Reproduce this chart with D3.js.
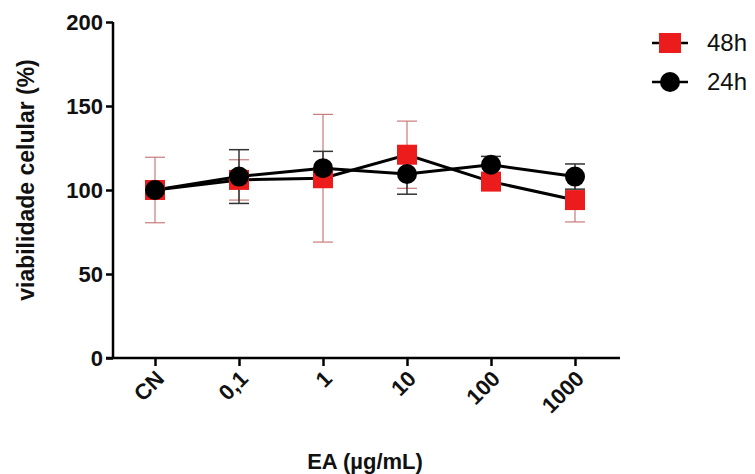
<!DOCTYPE html>
<html>
<head>
<meta charset="utf-8">
<script src="https://cdn.jsdelivr.net/npm/d3@7"></script>
<style>
body { margin: 0; background: #fff; }
text { font-family: Arial, "Liberation Sans", sans-serif; }
</style>
</head>
<body>
<div id="myDiv"></div>
<script>
// doses on the x axis
var categories = ["CN", "0,1", "1", "10", "100", "1000"];
// 48h series (mean and error)
var h48 = [100, 106, 107, 121, 105, 94];
var h48err = [19.5, 12, 38, 20, 4, 13];
// 24h series
var h24 = [100, 108, 113, 109.5, 115, 108];
var h24err = [4, 16, 10, 12, 5, 7.5];
var yTicks = [0, 50, 100, 150, 200];
var legendNames = ["48h", "24h"];

var svg = d3.select("#myDiv").append("svg")
    .attr("width", 755)
    .attr("height", 474);

var x = d3.scalePoint()
    .domain(categories)
    .range([113, 617])
    .padding(0.5);

var y = d3.scaleLinear()
    .domain([0, 200])
    .range([358, 22]);

// y axis
var yAxis = svg.append("g")
    .attr("transform", "translate(113,0)")
    .call(d3.axisLeft(y).tickValues(yTicks).tickSize(7).tickPadding(3));
yAxis.select(".domain").attr("stroke-width", 2.5).attr("d", "M0,22V358");
yAxis.selectAll(".tick line").attr("stroke-width", 2.5);
yAxis.selectAll(".tick text")
    .attr("font-size", 22)
    .attr("font-weight", "bold")
    .attr("fill", "#111")
    .attr("font-family", "Arial, 'Liberation Sans', sans-serif");

// x axis
var xAxis = svg.append("g")
    .attr("transform", "translate(0,358)")
    .call(d3.axisBottom(x).tickSize(8).tickSizeOuter(0));
xAxis.select(".domain").attr("stroke-width", 2.5).attr("d", "M106,0H620");
xAxis.selectAll(".tick line").attr("stroke-width", 2.5);
xAxis.selectAll(".tick text")
    .attr("font-size", 22)
    .attr("font-weight", "bold")
    .attr("fill", "#111")
    .attr("font-family", "Arial, 'Liberation Sans', sans-serif")
    .attr("text-anchor", "end")
    .attr("dy", null)
    .attr("y", 0)
    .attr("transform", "translate(10,22) rotate(-45)");

// axis titles
svg.append("text")
    .attr("transform", "translate(34,180) rotate(-90)")
    .attr("text-anchor", "middle")
    .attr("font-size", 23)
    .attr("font-weight", "bold")
    .attr("fill", "#111")
    .text("viabilidade celular (%)");

svg.append("text")
    .attr("x", 365)
    .attr("y", 469)
    .attr("text-anchor", "middle")
    .attr("font-size", 22)
    .attr("font-weight", "bold")
    .attr("fill", "#111")
    .text("EA (µg/mL)");

function errorBars(vals, errs, color, width) {
    var g = svg.append("g")
        .attr("stroke", color)
        .attr("stroke-width", width)
        .attr("fill", "none");
    var d = categories.map(function(c, i) {
        return { c: c, lo: vals[i] - errs[i], hi: vals[i] + errs[i] };
    });
    g.selectAll(".v").data(d).enter().append("line")
        .attr("x1", function(d){ return x(d.c); })
        .attr("x2", function(d){ return x(d.c); })
        .attr("y1", function(d){ return y(d.lo); })
        .attr("y2", function(d){ return y(d.hi); });
    g.selectAll(".t").data(d).enter().append("line")
        .attr("x1", function(d){ return x(d.c) - 10; })
        .attr("x2", function(d){ return x(d.c) + 10; })
        .attr("y1", function(d){ return y(d.hi); })
        .attr("y2", function(d){ return y(d.hi); });
    g.selectAll(".b").data(d).enter().append("line")
        .attr("x1", function(d){ return x(d.c) - 10; })
        .attr("x2", function(d){ return x(d.c) + 10; })
        .attr("y1", function(d){ return y(d.lo); })
        .attr("y2", function(d){ return y(d.lo); });
}

errorBars(h48, h48err, "#c97b7b", 1.2);
errorBars(h24, h24err, "#333", 1.5);

var line = d3.line()
    .x(function(d, i){ return x(categories[i]); })
    .y(function(d){ return y(d); });

svg.append("path").datum(h48)
    .attr("d", line)
    .attr("fill", "none")
    .attr("stroke", "#000")
    .attr("stroke-width", 3);
svg.append("path").datum(h24)
    .attr("d", line)
    .attr("fill", "none")
    .attr("stroke", "#000")
    .attr("stroke-width", 3);

svg.selectAll(".sq").data(h48).enter().append("rect")
    .attr("x", function(d, i){ return x(categories[i]) - 10; })
    .attr("y", function(d){ return y(d) - 10; })
    .attr("width", 20)
    .attr("height", 20)
    .attr("fill", "#ec1c1c");

svg.selectAll(".ci").data(h24).enter().append("circle")
    .attr("cx", function(d, i){ return x(categories[i]); })
    .attr("cy", function(d){ return y(d); })
    .attr("r", 10)
    .attr("fill", "#000");

// legend
var legend = svg.selectAll(".leg").data(legendNames).enter().append("g")
    .attr("transform", function(d, i){ return "translate(670," + (43 + i * 39) + ")"; });
legend.append("line")
    .attr("x1", -18).attr("x2", 18)
    .attr("stroke", "#000").attr("stroke-width", 2.5);
legend.filter(function(d, i){ return i == 0; }).append("rect")
    .attr("x", -11).attr("y", -10).attr("width", 22).attr("height", 20)
    .attr("fill", "#ec1c1c");
legend.filter(function(d, i){ return i == 1; }).append("circle")
    .attr("r", 10).attr("fill", "#000");
legend.append("text")
    .attr("x", 37)
    .attr("y", 8)
    .attr("font-size", 24)
    .attr("fill", "#111")
    .text(function(d){ return d; });
</script>
</body>
</html>
